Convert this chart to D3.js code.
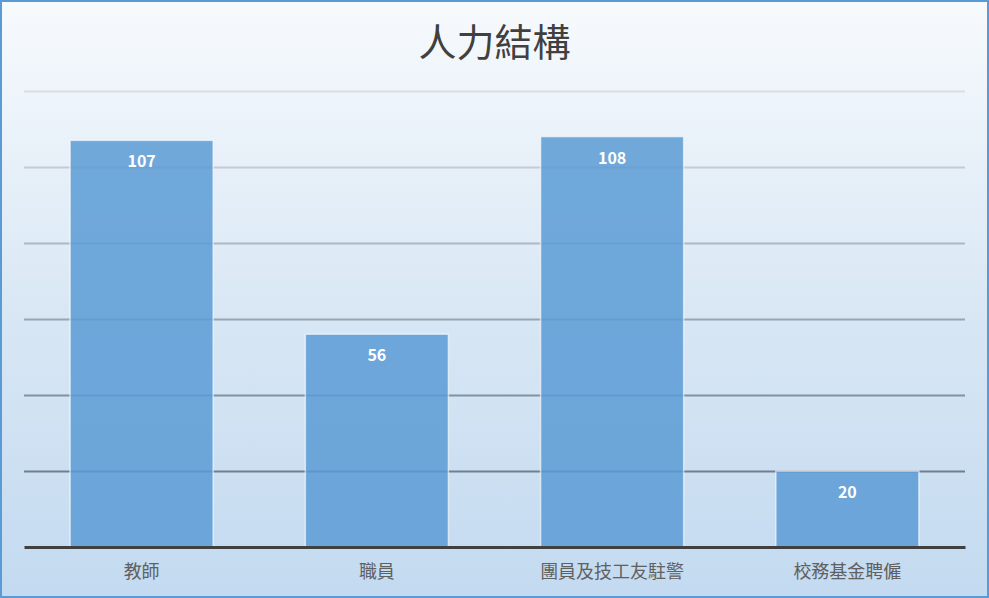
<!DOCTYPE html>
<html>
<head>
<meta charset="utf-8">
<script src="https://cdn.jsdelivr.net/npm/d3@7"></script>
<style>
html, body { margin: 0; padding: 0; background: #fff; }
svg { display: block; }
</style>
</head>
<body>
<svg id="chart"></svg>
<script>
const categories = ["教師", "職員", "團員及技工友駐警", "校務基金聘僱"];
const values = [107, 56, 108, 20];
const yTicks = [0, 20, 40, 60, 80, 100, 120];
const title = "人力結構";

const width = 989, height = 598;
const margin = {top: 91, right: 24, bottom: 51, left: 24};
const font = "'Noto Sans CJK TC', 'Noto Sans', sans-serif";

const svg = d3.select("svg#chart").attr("width", width).attr("height", height);

const defs = svg.append("defs");
const bg = defs.append("linearGradient").attr("id", "bg")
	.attr("x1", 0).attr("y1", 0).attr("x2", 0).attr("y2", 1);
bg.append("stop").attr("offset", "0%").attr("stop-color", "#f7fafd");
bg.append("stop").attr("offset", "55%").attr("stop-color", "#d7e6f4");
bg.append("stop").attr("offset", "100%").attr("stop-color", "#c3daf0");

svg.append("rect")
	.attr("x", 1).attr("y", 1).attr("width", width - 2).attr("height", height - 2)
	.attr("fill", "url(#bg)").attr("stroke", "#5b9bd5").attr("stroke-width", 2);

const x = d3.scaleBand()
	.domain(categories)
	.range([margin.left, width - margin.right])
	.paddingInner(0.392).paddingOuter(0.196);

const y = d3.scaleLinear()
	.domain([0, 120])
	.range([height - margin.bottom, margin.top]);

// gridlines get darker toward the bottom
const gridColor = d3.scaleLinear().domain([120, 20]).range(["#d9dee5", "#6f7f8d"]);

svg.append("g")
	.selectAll("line")
	.data(yTicks.filter(t => t > 0))
	.join("line")
	.attr("x1", margin.left).attr("x2", width - margin.right)
	.attr("y1", d => Math.round(y(d)) + 0.5).attr("y2", d => Math.round(y(d)) + 0.5)
	.attr("stroke", d => gridColor(d)).attr("stroke-width", 2);

svg.append("g")
	.selectAll("rect")
	.data(values)
	.join("rect")
	.attr("x", (d, i) => x(categories[i]))
	.attr("y", d => y(d))
	.attr("width", x.bandwidth())
	.attr("height", d => y(0) - y(d))
	.attr("fill", "#5b9bd5").attr("fill-opacity", 0.85)
	.attr("stroke", "#ffffff").attr("stroke-opacity", 0.6).attr("stroke-width", 1.5);

svg.append("g")
	.selectAll("text")
	.data(values)
	.join("text")
	.attr("x", (d, i) => x(categories[i]) + x.bandwidth() / 2)
	.attr("y", d => y(d) + 27)
	.attr("text-anchor", "middle")
	.attr("fill", "#ffffff")
	.attr("font-family", font).attr("font-weight", "bold").attr("font-size", 16)
	.text(d => d);

// baseline + category labels through the axis
const xAxis = svg.append("g")
	.attr("transform", `translate(0,${y(0)})`)
	.call(d3.axisBottom(x).tickSize(0).tickPadding(18));
xAxis.select(".domain").attr("stroke", "#404040").attr("stroke-width", 3);
xAxis.selectAll("text")
	.attr("fill", "#606060").attr("font-family", font).attr("font-size", 18);

svg.append("text")
	.attr("x", width / 2).attr("y", 56)
	.attr("text-anchor", "middle")
	.attr("fill", "#404040")
	.attr("font-family", font).attr("font-size", 38)
	.text(title);
</script>
</body>
</html>
